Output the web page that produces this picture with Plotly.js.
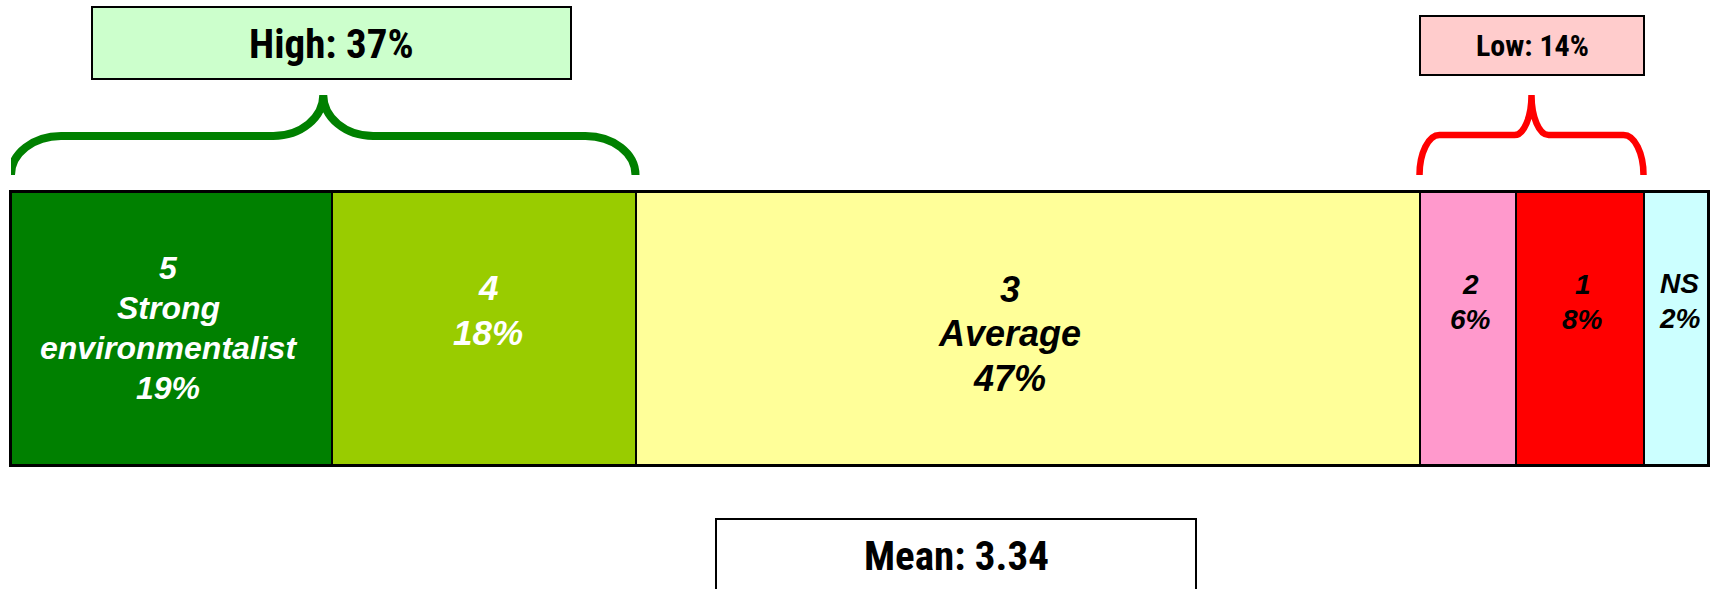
<!DOCTYPE html>
<html>
<head>
<meta charset="utf-8">
<script src="https://cdn.plot.ly/plotly-3.0.1.min.js"></script>
<style>html,body{margin:0;padding:0;background:#fff;}#chart{width:1715px;height:589px;}</style>
</head>
<body>
<div id="chart"></div>
<script>
// ---- data ----
const categories = ['5', '4', '3', '2', '1', 'NS'];
const categoryNames = ['Strong environmentalist', '', 'Average', '', '', ''];
const pctLabels = [19, 18, 47, 6, 8, 2];                 // printed percentages
const segmentWidths = [18.9, 17.9, 46.2, 5.7, 7.5, 3.8]; // drawn share of bar (as measured)
const highShare = 37;
const lowShare = 14;
const meanScore = 3.34;
const highGroup = ['5', '4'];
const lowGroup = ['2', '1'];

// ---- styles ----
const fillColors = ['#008000', '#99CC00', '#FFFF99', '#FF99CC', '#FF0000', '#CCFFFF'];
const textColors = ['#FFFFFF', '#FFFFFF', '#000000', '#000000', '#000000', '#000000'];
const labelSizes = [32, 35, 36, 28, 28, 28];
const labelCenterPx = [328, 310, 333.7, 301.7, 301.7, 301];  // block centre (pixel row)
const labelGapPx = [39.8, 45, 44.7, 35, 35, 35];               // line pitch
const labelXShift = [-3, 4, -18, 3, 3, 4];

const W = 1715, H = 589;
const plotL = 11, plotR = 1708, plotT = 192, plotB = 465;
const barCenterPx = (plotT + plotB) / 2;
const pxPerUnit = (plotR - plotL) / 100;
const py = v => 1 - v / H;   // pixel row -> paper y
const px = v => v / W;       // pixel col -> paper x

const sansBI = 'Liberation Sans, Arial, sans-serif';
const narrow = '"Liberation Sans Narrow", "Arial Narrow", "Roboto Condensed", "DejaVu Sans Condensed", sans-serif';

const traces = categories.map((c, i) => ({
  type: 'bar', orientation: 'h',
  x: [segmentWidths[i]], y: [0], name: c,
  marker: {color: fillColors[i], line: {color: '#000', width: 2}},
  hoverinfo: 'skip'
}));

// cumulative positions
const starts = [];
let acc = 0;
segmentWidths.forEach(w => { starts.push(acc); acc += w; });

const annotations = [];
categories.forEach((c, i) => {
  const lines = [c];
  if (categoryNames[i]) categoryNames[i].split(' ').forEach(s => lines.push(s));
  lines.push(pctLabels[i] + '%');
  const n = lines.length;
  lines.forEach((t, j) => {
    const rowPx = labelCenterPx[i] + (j - (n - 1) / 2) * labelGapPx[i];
    annotations.push({
      x: starts[i] + segmentWidths[i] / 2, y: 0, xref: 'x', yref: 'y',
      text: t, showarrow: false,
      xanchor: 'center', yanchor: 'middle',
      xshift: labelXShift[i], yshift: barCenterPx - rowPx,
      font: {family: sansBI, size: labelSizes[i], color: textColors[i], weight: 'bold', style: 'italic'}
    });
  });
});

function groupSpan(group) {
  const idx = group.map(g => categories.indexOf(g));
  const a = Math.min(...idx), b = Math.max(...idx);
  return [starts[a], starts[b] + segmentWidths[b]];
}

function bracePath(x0, x1, rxPx, tipRxPx, yb, yh, yt) {
  const k = 0.5523;
  const rx = rxPx / pxPerUnit, trx = tipRxPx / pxPerUnit;
  const xm = (x0 + x1) / 2;
  const Yb = py(yb), Yh = py(yh), Yt = py(yt);
  return `M${x0},${Yb} C${x0},${Yb + k * (Yh - Yb)} ${x0 + rx - k * rx},${Yh} ${x0 + rx},${Yh} ` +
    `L${xm - trx},${Yh} C${xm - trx + k * trx},${Yh} ${xm},${Yt + k * (Yh - Yt)} ${xm},${Yt} ` +
    `C${xm},${Yt + k * (Yh - Yt)} ${xm + trx - k * trx},${Yh} ${xm + trx},${Yh} ` +
    `L${x1 - rx},${Yh} C${x1 - rx + k * rx},${Yh} ${x1},${Yb + k * (Yh - Yb)} ${x1},${Yb}`;
}

const hs = groupSpan(highGroup), ls = groupSpan(lowGroup);

const shapes = [
  {type: 'path', xref: 'x', yref: 'paper', path: bracePath(hs[0], hs[1], 50, 50, 175, 136, 95),
   line: {color: '#008000', width: 8}},
  {type: 'path', xref: 'x', yref: 'paper', path: bracePath(ls[0], ls[1], 20, 17, 175, 135, 95),
   line: {color: '#FF0000', width: 6.5}},
  {type: 'rect', xref: 'paper', yref: 'paper', x0: px(92), x1: px(571), y0: py(7), y1: py(79),
   fillcolor: '#CCFFCC', line: {color: '#000', width: 2}, layer: 'below'},
  {type: 'rect', xref: 'paper', yref: 'paper', x0: px(1420), x1: px(1644), y0: py(16), y1: py(75),
   fillcolor: '#FFCCCC', line: {color: '#000', width: 2}, layer: 'below'},
  {type: 'rect', xref: 'paper', yref: 'paper', x0: px(716), x1: px(1196), y0: py(519), y1: py(610),
   fillcolor: '#FFFFFF', line: {color: '#000', width: 2}, layer: 'below'}
];

annotations.push(
  {xref: 'paper', yref: 'paper', x: px(331), y: py(44), text: 'High: ' + highShare + '%', showarrow: false,
   xanchor: 'center', yanchor: 'middle', font: {family: narrow, size: 41, color: '#000', weight: 'bold'}},
  {xref: 'paper', yref: 'paper', x: px(1532), y: py(46), text: 'Low: ' + lowShare + '%', showarrow: false,
   xanchor: 'center', yanchor: 'middle', font: {family: narrow, size: 30, color: '#000', weight: 'bold'}},
  {xref: 'paper', yref: 'paper', x: px(956), y: py(556), text: 'Mean: ' + meanScore.toFixed(2), showarrow: false,
   xanchor: 'center', yanchor: 'middle', font: {family: narrow, size: 41, color: '#000', weight: 'bold'}}
);

const axisCommon = {showgrid: false, zeroline: false, showticklabels: false, ticks: '',
  showline: true, mirror: true, linecolor: '#000', linewidth: 2, fixedrange: true};

const layout = {
  width: W, height: H,
  margin: {l: 0, r: 0, t: 0, b: 0, pad: 0},
  paper_bgcolor: '#fff', plot_bgcolor: '#fff',
  showlegend: false, barmode: 'stack', bargap: 0,
  xaxis: Object.assign({domain: [plotL / W, plotR / W], range: [0, 100]}, axisCommon),
  yaxis: Object.assign({domain: [1 - plotB / H, 1 - plotT / H], range: [-0.5, 0.5]}, axisCommon),
  shapes: shapes, annotations: annotations
};

Plotly.newPlot('chart', traces, layout, {displayModeBar: false, staticPlot: true});
</script>
</body>
</html>
